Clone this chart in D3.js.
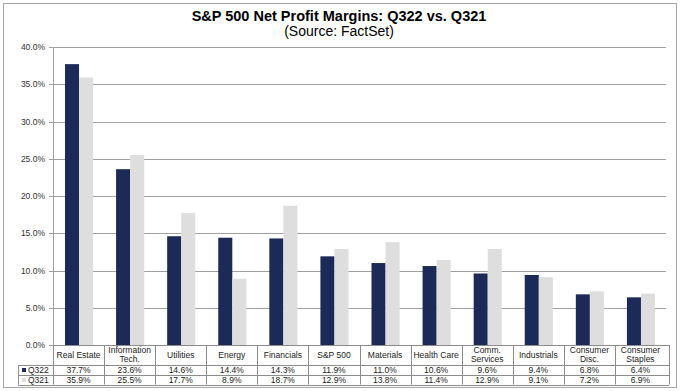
<!DOCTYPE html>
<html>
<head>
<meta charset="utf-8">
<script src="https://cdn.jsdelivr.net/npm/d3@7"></script>
<style>
  body { margin: 0; background: #fff; }
  svg text { font-family: "Liberation Sans", Arial, sans-serif; }
</style>
</head>
<body>
<svg id="chart" width="680" height="391"></svg>
<script>
// chart data
const categories = ["Real Estate", "Information Tech.", "Utilities", "Energy", "Financials", "S&P 500",
  "Materials", "Health Care", "Comm. Services", "Industrials", "Consumer Disc.", "Consumer Staples"];
const catLines = [["Real Estate"], ["Information", "Tech."], ["Utilities"], ["Energy"], ["Financials"], ["S&P 500"],
  ["Materials"], ["Health Care"], ["Comm.", "Services"], ["Industrials"], ["Consumer", "Disc."], ["Consumer", "Staples"]];
const q322 = [37.7, 23.6, 14.6, 14.4, 14.3, 11.9, 11.0, 10.6, 9.6, 9.4, 6.8, 6.4];
const q321 = [35.9, 25.5, 17.7, 8.9, 18.7, 12.9, 13.8, 11.4, 12.9, 9.1, 7.2, 6.9];
const seriesNames = ["Q322", "Q321"];
const yTicks = [0, 5, 10, 15, 20, 25, 30, 35, 40];

const colors = { Q322: "#1b2a57", Q321: "#dedede" };

let svg = d3.select("#chart");
let plotL = 53, plotR = 666, plotT = 47, plotB = 345;

// outer frame
svg.append("rect").attr("x", 3.5).attr("y", 3.5).attr("width", 673).attr("height", 384)
  .attr("fill", "#fff").attr("stroke", "#a6a6a6");

// titles
svg.append("text").attr("x", 339).attr("y", 21).attr("text-anchor", "middle")
  .style("font-size", "14.5px").style("font-weight", "bold").text("S&P 500 Net Profit Margins: Q322 vs. Q321");
svg.append("text").attr("x", 339).attr("y", 36).attr("text-anchor", "middle")
  .style("font-size", "14px").text("(Source: FactSet)");

let x = d3.scaleBand().domain(categories).range([plotL, plotR]);
let y = d3.scaleLinear().domain([0, 40]).range([plotB, plotT]);
let bw = x.bandwidth() * 0.275;
let off = x.bandwidth() * 0.235;

// gridlines
svg.append("g").selectAll("line").data(yTicks).enter().append("line")
  .attr("x1", plotL - 4).attr("x2", plotR)
  .attr("y1", d => Math.round(y(d)) + 0.5).attr("y2", d => Math.round(y(d)) + 0.5)
  .attr("stroke", "#a0a0a0").attr("stroke-width", 1);

// y axis line
svg.append("line").attr("x1", plotL + 0.5).attr("x2", plotL + 0.5).attr("y1", plotT).attr("y2", plotB)
  .attr("stroke", "#a0a0a0");

// y tick labels
svg.append("g").selectAll("text").data(yTicks).enter().append("text")
  .attr("x", 45).attr("y", d => y(d) + 3).attr("text-anchor", "end")
  .style("font-size", "8.5px").style("fill", "#333")
  .text(d => d3.format(".1f")(d) + "%");

// bars
let series = [q322, q321];
series.forEach(function(vals, si) {
  svg.append("g").selectAll("rect").data(vals).enter().append("rect")
    .attr("x", (d, i) => x(categories[i]) + off + si * bw)
    .attr("y", d => y(d))
    .attr("width", bw)
    .attr("height", d => plotB - y(d))
    .attr("fill", colors[seriesNames[si]]);
});

// data table
let tLeft = 18, r0 = plotB, r1 = 365, r2 = 375, r3 = 384.5;
let tbl = svg.append("g").attr("stroke", "#8c8c8c").attr("stroke-width", 1);
[r0, r1, r2, r3].forEach(function(ry, k) {
  tbl.append("line").attr("x1", k === 0 ? plotL : tLeft).attr("x2", plotR + 3)
    .attr("y1", Math.round(ry) + 0.5).attr("y2", Math.round(ry) + 0.5);
});
tbl.append("line").attr("x1", tLeft + 0.5).attr("x2", tLeft + 0.5).attr("y1", r1).attr("y2", r3);
categories.forEach(function(c, i) {
  tbl.append("line").attr("x1", Math.round(x(c)) + 0.5).attr("x2", Math.round(x(c)) + 0.5)
    .attr("y1", r0).attr("y2", r3);
});
tbl.append("line").attr("x1", plotR + 3.5).attr("x2", plotR + 3.5).attr("y1", r0).attr("y2", r3);

// category labels
svg.append("g").selectAll("text").data(catLines).enter().append("text")
  .attr("text-anchor", "middle").style("font-size", "8.5px").style("fill", "#222")
  .each(function(lines, i) {
    let cx = x(categories[i]) + x.bandwidth() / 2;
    let y0 = lines.length === 1 ? 357.5 : 352.5;
    lines.forEach(function(l, k) {
      d3.select(this).append("tspan").attr("x", cx).attr("y", y0 + k * 9).text(l);
    }, this);
  });

// value rows
[[q322, r1, r2], [q321, r2, r3]].forEach(function(row, si) {
  svg.append("g").selectAll("text").data(row[0]).enter().append("text")
    .attr("x", (d, i) => x(categories[i]) + x.bandwidth() / 2)
    .attr("y", row[2] - 2).attr("text-anchor", "middle")
    .style("font-size", "8.5px").style("fill", "#222")
    .text(d => d3.format(".1f")(d) + "%");
  // legend key
  svg.append("rect").attr("x", tLeft + 4).attr("y", row[1] + 3).attr("width", 4).attr("height", 4)
    .attr("fill", colors[seriesNames[si]]);
  svg.append("text").attr("x", tLeft + 10).attr("y", row[2] - 2)
    .style("font-size", "8.5px").style("fill", "#222").text(seriesNames[si]);
});
</script>
</body>
</html>
